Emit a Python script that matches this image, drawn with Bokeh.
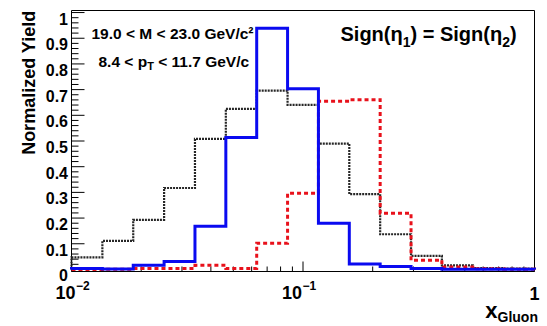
import math
import numpy as np
from bokeh.plotting import figure
from bokeh.models import Label, Range1d
from bokeh.embed import file_html
from bokeh.resources import INLINE

# ---------------- data ----------------
x_bin_edges = [0.01, 0.013594, 0.018478, 0.025119, 0.034145, 0.046416, 0.063096,
               0.085770, 0.116591, 0.158489, 0.215443, 0.292864, 0.398107,
               0.541170, 0.735642, 1.0]
yield_blue = [0.004, 0.002, 0.016, 0.031, 0.168, 0.514, 0.939, 0.703,
              0.180, 0.021, 0.011, 0.004, 0.001, 0.001, 0.001]
yield_red = [0.000, 0.001, 0.004, 0.004, 0.016, 0.004, 0.102, 0.297,
             0.655, 0.661, 0.219, 0.036, 0.010, 0.003, 0.001]
yield_black = [0.047, 0.111, 0.193, 0.317, 0.508, 0.625, 0.696, 0.641,
               0.490, 0.293, 0.137, 0.053, 0.016, 0.005, 0.003]

y_ticks = [0, 0.1, 0.2, 0.3, 0.4, 0.5, 0.6, 0.7, 0.8, 0.9, 1.0]
y_tick_labels = ["0", "0.1", "0.2", "0.3", "0.4", "0.5", "0.6", "0.7", "0.8", "0.9", "1"]
y_minor_ticks = [round(0.02 * k, 2) for k in range(51) if k % 5]
x_ticks = [0.01, 0.1, 1.0]
x_minor_ticks = [m * d for d in (0.01, 0.1) for m in range(2, 10)]
x_tick_mantissa = ["10", "10", "1"]
x_tick_exponent = ["\u22122", "\u22121", ""]

FONT = "Liberation Sans"

# ---------------- geometry (page px -> data) ----------------
W, H = 547, 326
PAGE_OFF = 0
IMG_L, IMG_R, IMG_T, IMG_B = 71.0, 534.0, 10.0, 271.0
LX0, LX1 = -2.0, 0.0          # log10 of x-axis ends
Y0, Y1 = -0.008, 1.008        # y-axis ends


def x_of(px):
    return 10 ** (LX0 + (px - IMG_L) / (IMG_R - IMG_L) * (LX1 - LX0))


def y_of(py):
    return Y0 + (IMG_B - py) / (IMG_B - IMG_T) * (Y1 - Y0)


XA, XB = 10 ** LX0, 10 ** LX1

p = figure(width=W, height=H, x_axis_type="log",
           x_range=Range1d(x_of(PAGE_OFF), x_of(PAGE_OFF + W)),
           y_range=Range1d(y_of(PAGE_OFF + H), y_of(PAGE_OFF)),
           x_axis_location=None, y_axis_location=None,
           output_backend="svg", toolbar_location=None,
           min_border=0, min_border_left=0, min_border_right=0,
           min_border_top=0, min_border_bottom=0)
p.title.visible = False
p.xgrid.visible = False
p.ygrid.visible = False
p.outline_line_color = None
p.background_fill_color = "white"
p.border_fill_color = "white"

# ---------------- frame and ticks ----------------
p.line([XA, XB, XB, XA, XA], [Y0, Y0, Y1, Y1, Y0], line_color="black", line_width=1)

# y ticks (pointing into the frame)
n = len(y_ticks)
p.segment(x0=[XA] * n, y0=y_ticks, x1=[x_of(IMG_L + 13)] * n, y1=y_ticks,
          line_color="black", line_width=1)
m = len(y_minor_ticks)
p.segment(x0=[XA] * m, y0=y_minor_ticks, x1=[x_of(IMG_L + 7)] * m, y1=y_minor_ticks,
          line_color="black", line_width=1)
# x ticks
n = len(x_ticks)
p.segment(x0=x_ticks, y0=[Y0] * n, x1=x_ticks, y1=[y_of(IMG_B - 10)] * n,
          line_color="black", line_width=1)
m = len(x_minor_ticks)
p.segment(x0=x_minor_ticks, y0=[Y0] * m, x1=x_minor_ticks, y1=[y_of(IMG_B - 5)] * m,
          line_color="black", line_width=1)


# ---------------- histograms ----------------
def step_path(edges, vals):
    xs = np.repeat(np.asarray(edges, dtype=float), 2)
    ys = np.concatenate([[0.0], np.repeat(np.asarray(vals, dtype=float), 2), [0.0]])
    return xs, ys


xs, ys = step_path(x_bin_edges, yield_black)
p.line(xs, ys, line_color="#262626", line_width=2.2, line_dash="2 1", line_join="miter")
xs, ys = step_path(x_bin_edges, yield_red)
p.line(xs, ys, line_color="#e8111b", line_width=3, line_dash="4 3", line_join="miter")
xs, ys = step_path(x_bin_edges, yield_blue)
p.line(xs, ys, line_color="#0a0af0", line_width=3, line_join="miter")


# ---------------- texts ----------------
def add_text(text, x, y, size, align="left", dx=0, dy=0, angle=0.0, baseline="alphabetic"):
    p.add_layout(Label(x=x, y=y, x_offset=dx, y_offset=dy, text=text,
                       text_font=FONT, text_font_size=size, text_font_style="bold",
                       text_color="black", text_align=align,
                       text_baseline=baseline, angle=angle))


# y tick labels
for t, lab in zip(y_ticks, y_tick_labels):
    add_text(lab, x_of(67.5), t, "16px", align="right", dy=-6)

# x tick labels (mantissa + superscript exponent)
tick_dx = [4, -1, 0]
for t, man, ex, dxx in zip(x_ticks, x_tick_mantissa, x_tick_exponent, tick_dx):
    if ex:
        add_text(man, t, y_of(292), "18px", align="right", dx=dxx)
        add_text(ex, t, y_of(284.5), "12px", dx=dxx + 0.5)
    else:
        add_text(man, t, y_of(293), "18px", align="center", dx=dxx)

# top-left annotations
add_text("19.0 < M < 23.0 GeV/c\u00b2", x_of(91), y_of(33), "15.5px")
ax, ay = x_of(98), y_of(61)
add_text("8.4 < p", ax, ay, "15.5px")
add_text("T", ax, ay, "11px", dx=48.7, dy=-4)
add_text("< 11.7 GeV/c", ax, ay, "15.5px", dx=59.7)

# top-right annotation
sx, sy = x_of(340), y_of(33)
add_text("Sign(\u03b7", sx, sy, "20px")
add_text("1", sx, sy, "14px", dx=62.2, dy=-8)
add_text(") = Sign(\u03b7", sx, sy, "20px", dx=70.0)
add_text("2", sx, sy, "14px", dx=161.7, dy=-8)
add_text(")", sx, sy, "20px", dx=169.5)

# axis titles
add_text("Normalized Yield", x_of(28), y_of(10), "18px", align="right", angle=math.pi / 2)
add_text("x", x_of(497), y_of(310), "22px", align="right", baseline="middle")
add_text("Gluon", x_of(497), y_of(316.5), "14px", baseline="middle")

open("out.html", "w").write(file_html(p, INLINE))
